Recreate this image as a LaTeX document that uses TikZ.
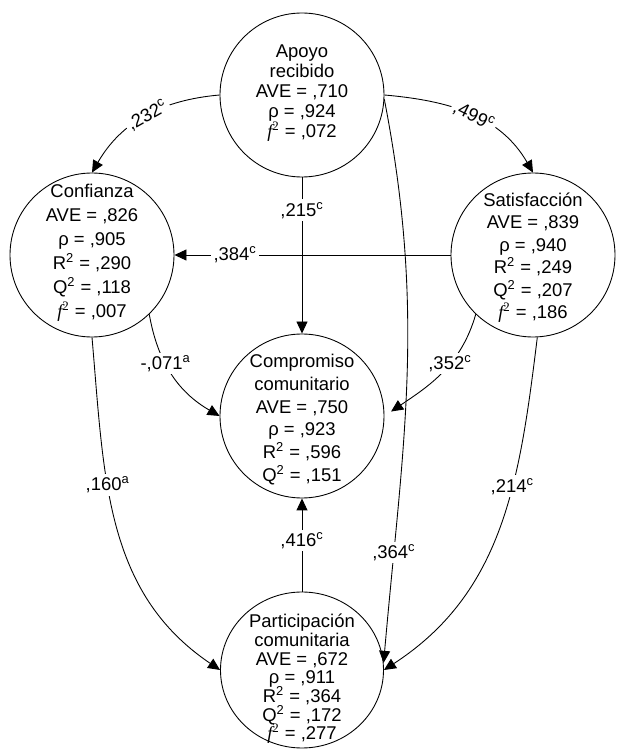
\documentclass[tikz,border=0pt]{standalone}
\usepackage{fontspec}
\setmainfont{Liberation Sans}
\newfontfamily\fserif{Liberation Serif}
\usetikzlibrary{arrows.meta, shapes.geometric}

\newcommand{\fsq}{{\fserif\itshape f}\textsuperscript{\fserif 2}}
\newcommand{\sq}{\textsuperscript{2}}

\tikzset{
  latent/.style={draw, circle, line width=0.5pt, minimum size=3.28cm, inner sep=0pt},
  stat/.style={align=center, inner sep=0pt, execute at begin node={\lineskiplimit=-10pt}},
  coef/.style={fill=white, inner sep=1.5pt},
  path/.style={line width=0.5pt, ->},
}

\begin{document}
\begin{tikzpicture}[>={Triangle[length=0.24cm, width=0.22cm]}, every node/.style={font=\fontsize{10.5}{12}\selectfont}]
  \useasboundingbox (0,0) rectangle (12.36,15);

  % 1. CONSTRUCTS (circle with its statistics as a centred label)
  \node[latent, label={[stat, yshift=0.04cm, font=\fontsize{10.5}{11.4}\selectfont]center:{Apoyo\\recibido\\AVE = ,710\\ρ = ,924\\\fsq{} = ,072}}] (apoyo) at (6.04, 13.10) {};
  \node[latent, label={[stat, yshift=0.04cm, font=\fontsize{10.5}{13.7}\selectfont]center:{Confianza\\AVE = ,826\\ρ = ,905\\R\sq{} = ,290\\Q\sq{} = ,118\\\fsq{} = ,007}}] (confianza) at (1.84, 9.90) {};
  \node[latent, label={[stat, yshift=-0.05cm, font=\fontsize{10.5}{12.8}\selectfont]center:{Satisfacción\\AVE = ,839\\ρ = ,940\\R\sq{} = ,249\\Q\sq{} = ,207\\\fsq{} = ,186}}] (satisfaccion) at (10.66, 9.90) {};
  \node[latent, label={[stat, yshift=-0.07cm, font=\fontsize{10.5}{12.9}\selectfont]center:{Compromiso\\comunitario\\AVE = ,750\\ρ = ,923\\R\sq{} = ,596\\Q\sq{} = ,151}}] (compromiso) at (6.04, 6.68) {};
  \node[latent, ellipse, minimum width=3.26cm, minimum height=3.12cm, label={[stat, yshift=-0.18cm, font=\fontsize{10.5}{10.6}\selectfont]center:{Participación\\comunitaria\\AVE = ,672\\ρ = ,911\\R\sq{} = ,364\\Q\sq{} = ,172\\\fsq{} = ,277}}] (participacion) at (6.04, 1.60) {};

  % 2. PATHS LEAVING APOYO RECIBIDO
  \draw[path] (apoyo.west) to[out=185, in=60] node[coef, sloped, pos=0.48] {,232\textsuperscript{c}} (confianza.north);
  \draw[path] (apoyo.east) to[out=-5, in=120] node[coef, sloped, pos=0.52] {,499\textsuperscript{c}} (satisfaccion.north);
  \draw[path] (apoyo.south) -- node[coef, pos=0.21] {,215\textsuperscript{c}} (compromiso.north);
  \draw[path] (apoyo.-3) to[out=-79, in=85] node[coef, pos=0.82] {,364\textsuperscript{c}} (participacion.5);

  % 3. SATISFACCION -> CONFIANZA
  \draw[path] (satisfaccion.west) -- node[coef, pos=0.78] {,384\textsuperscript{c}} (confianza.east);

  % 4. INTO COMPROMISO COMUNITARIO
  \draw[path] (confianza.-46) to[out=-80, in=150] node[coef, pos=0.4] {-,071\textsuperscript{a}} (compromiso.west);
  \draw[path, shorten >=0.16cm] (satisfaccion.-134) to[out=-106, in=34] node[coef, pos=0.4] {,352\textsuperscript{c}} (compromiso.east);
  \draw[path] (participacion.north) -- node[coef, pos=0.55] {,416\textsuperscript{c}} (compromiso.south);

  % 5. INTO PARTICIPACION COMUNITARIA
  \draw[path] (confianza.south) to[out=-85, in=146] node[coef, pos=0.38] {,160\textsuperscript{a}} (participacion.west);
  \draw[path] (satisfaccion.-87) to[out=-97, in=33] node[coef, pos=0.38] {,214\textsuperscript{c}} (participacion.east);

\end{tikzpicture}
\end{document}
